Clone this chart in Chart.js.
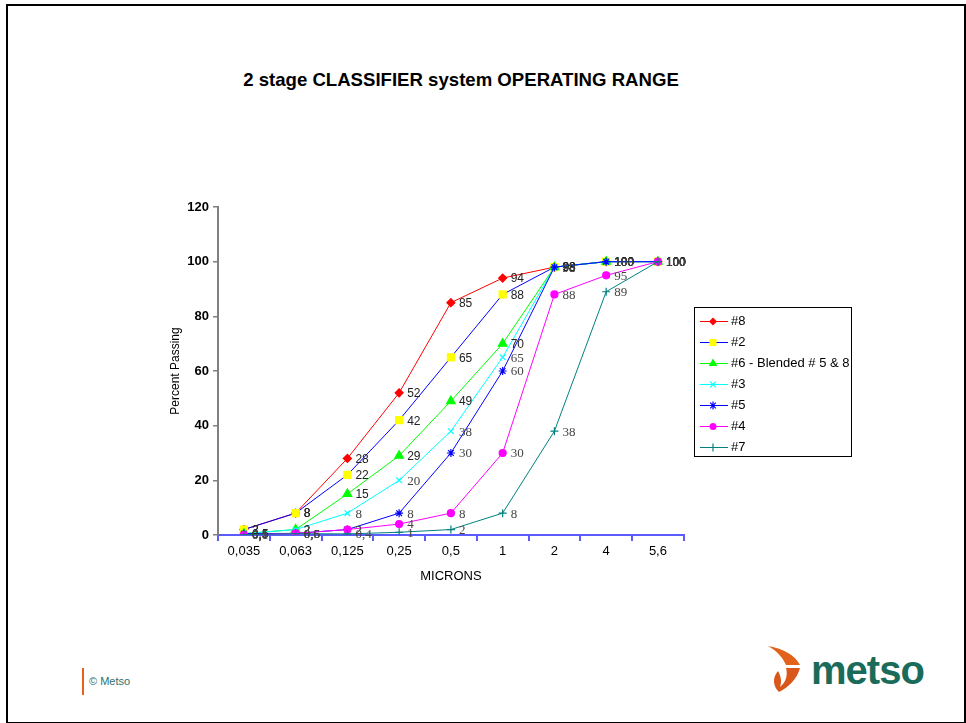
<!DOCTYPE html>
<html>
<head>
<meta charset="utf-8">
<script src="https://cdn.jsdelivr.net/npm/chart.js@4.4.1/dist/chart.umd.min.js"></script>
<style>
  body { margin: 0; background: #fff; font-family: Arial, "Liberation Sans", sans-serif; }
  #page { position: relative; width: 966px; height: 723px; overflow: hidden; }
  #frame { position: absolute; left: 6px; top: 4px; width: 956px; height: 716px; border: 2px solid #000; }
  #title { position: absolute; left: 0; width: 922px; top: 70px; line-height: 20px; text-align: center;
           font-weight: bold; font-size: 18.6px; color: #000; }
  #wrap { position: absolute; left: 160px; top: 195px; }
  #legend { position: absolute; left: 694px; top: 307px; width: 156px; height: 146px; border: 1px solid #000;
            padding-top: 2px; box-sizing: content-box; }
  .row { height: 21px; display: flex; align-items: center; font-size: 13px; color: #000; }
  .row canvas { margin-left: 5px; margin-right: 3px; }
  #copy { position: absolute; left: 82px; top: 668px; height: 27px; border-left: 2px solid #e8601c;
          padding-left: 5px; font-size: 11px; line-height: 27px; color: #2f6f6a; }
  #logo { position: absolute; left: 760px; top: 636px; }
  #logo span { position: absolute; left: 51px; top: 9px; font-size: 40px; font-weight: bold; color: #1b6b5b;
               letter-spacing: -1px; line-height: 50px; }
</style>
</head>
<body>
<div id="page">
  <div id="frame"></div>
  <div id="title">2 stage CLASSIFIER system OPERATING RANGE</div>
  <div id="wrap"><canvas id="chart" width="530" height="395"></canvas></div>
  <div id="legend"></div>
  <div id="copy">© Metso</div>
  <div id="logo">
    <svg width="50" height="62" viewBox="760 636 50 62">
      <path d="M768 646 C784 649 795 655 800 665 L786 665 C783 658 777 651 768 646 Z" fill="#e2621b"/>
      <path d="M786 668 L800 668 C797 679 789 687 779 692 C773 686 772 678 778 671 C781 676 782 682 780 687 C786 682 788 675 786 668 Z" fill="#d9571a"/>
    </svg>
    <span>metso</span>
  </div>
</div>
<script>
// x categories (microns)
const microns = ['0,035', '0,063', '0,125', '0,25', '0,5', '1', '2', '4', '5,6'];
const seriesNames = ['#8', '#2', '#6 - Blended # 5 & 8', '#3', '#5', '#4', '#7'];

// percent passing per sample
const s8 = [2, 8, 28, 52, 85, 94, 98, 100, 100];
const s2 = [2, 8, 22, 42, 65, 88, 98, 100, 100];
const s6 = [0.5, 2, 15, 29, 49, 70, 98, 100, 100];
const s3 = [0.5, 2, 8, 20, 38, 65, 98, 100, 100];
const s5 = [0.5, 0.6, 2, 8, 30, 60, 98, 100, 100];
const s4 = [0.1, 0.6, 2, 4, 8, 30, 88, 95, 100];
const s7 = [0.1, 0.5, 0.4, 1, 2, 8, 38, 89, 100];

const yTicks = [0, 20, 40, 60, 80, 100, 120];

const seriesData = [s8, s2, s6, s3, s5, s4, s7];
const lineColors = ['#ff0000', '#0000ff', '#00ff00', '#00ffff', '#0000ff', '#ff00ff', '#008080'];
const markColors = ['#ff0000', '#ffff00', '#00ff00', '#00ffff', '#0000ff', '#ff00ff', '#008080'];
const markStyles = ['rectRot', 'rect', 'triangle', 'crossRot', 'star', 'circle', 'cross'];
const markSizes = [4, 5, 5, 4, 4, 3.5, 4];
const sansLbl = '12px Arial, "Liberation Sans", sans-serif';
const serifLbl = '13px "Times New Roman", "Liberation Serif", serif';
const labelFonts = [sansLbl, sansLbl, sansLbl, serifLbl, serifLbl, serifLbl, serifLbl];
const labelColors = ['#222', '#222', '#222', '#444', '#444', '#444', '#444'];

function drawMark(ctx, style, x, y, r, color) {
  ctx.save();
  ctx.fillStyle = color;
  ctx.strokeStyle = color;
  ctx.lineWidth = 1.2;
  ctx.beginPath();
  if (style === 'rectRot') {
    ctx.moveTo(x, y - r); ctx.lineTo(x + r, y); ctx.lineTo(x, y + r); ctx.lineTo(x - r, y); ctx.closePath(); ctx.fill();
  } else if (style === 'rect') {
    const h = r * Math.SQRT1_2; ctx.rect(x - h, y - h, 2 * h, 2 * h); ctx.fill();
  } else if (style === 'triangle') {
    ctx.moveTo(x, y - r); ctx.lineTo(x + r * 0.87, y + r * 0.5); ctx.lineTo(x - r * 0.87, y + r * 0.5); ctx.closePath(); ctx.fill();
  } else if (style === 'circle') {
    ctx.arc(x, y, r, 0, Math.PI * 2); ctx.fill();
  } else {
    const d = r * Math.SQRT1_2;
    if (style === 'crossRot' || style === 'star') {
      ctx.moveTo(x - d, y - d); ctx.lineTo(x + d, y + d); ctx.moveTo(x + d, y - d); ctx.lineTo(x - d, y + d);
    }
    if (style === 'cross' || style === 'star') {
      ctx.moveTo(x, y - r); ctx.lineTo(x, y + r); ctx.moveTo(x - r, y); ctx.lineTo(x + r, y);
    }
    ctx.stroke();
  }
  ctx.restore();
}

// legend
const legend = document.getElementById('legend');
seriesNames.forEach((name, i) => {
  const row = document.createElement('div');
  row.className = 'row';
  const c = document.createElement('canvas');
  c.width = 28; c.height = 14;
  const cx = c.getContext('2d');
  cx.strokeStyle = lineColors[i];
  cx.lineWidth = 1;
  cx.beginPath(); cx.moveTo(0, 7.5); cx.lineTo(28, 7.5); cx.stroke();
  drawMark(cx, markStyles[i], 13, 7.5, markSizes[i], markColors[i]);
  row.appendChild(c);
  const t = document.createElement('span');
  t.textContent = name;
  row.appendChild(t);
  legend.appendChild(row);
});

// value labels next to each point
const pointLabels = {
  id: 'pointLabels',
  afterDatasetsDraw(chart) {
    const ctx = chart.ctx;
    chart.data.datasets.forEach((ds, idx) => {
      const meta = chart.getDatasetMeta(idx);
      ctx.save();
      ctx.font = labelFonts[idx];
      ctx.fillStyle = labelColors[idx];
      ctx.textBaseline = 'middle';
      meta.data.forEach((pt, j) => {
        ctx.fillText(String(ds.data[j]).replace('.', ','), pt.x + 8, pt.y + 1);
      });
      ctx.restore();
    });
  }
};

new Chart(document.getElementById('chart'), {
  type: 'line',
  data: {
    labels: microns,
    datasets: seriesData.map((d, i) => ({
      label: seriesNames[i],
      data: d,
      order: 7 - i,
      borderColor: lineColors[i],
      borderWidth: 1,
      backgroundColor: markColors[i],
      pointBackgroundColor: markColors[i],
      pointBorderColor: markColors[i],
      pointBorderWidth: 1.2,
      pointStyle: markStyles[i],
      pointRadius: markSizes[i],
      tension: 0
    }))
  },
  options: {
    responsive: false,
    devicePixelRatio: 1,
    animation: false,
    layout: { padding: { top: 12, right: 4, left: 0, bottom: 0 } },
    plugins: { legend: { display: false }, tooltip: { enabled: false } },
    scales: {
      x: {
        type: 'category',
        offset: true,
        afterFit: (s) => { s.height = 55; },
        grid: { offset: true, drawOnChartArea: false, drawTicks: true, tickLength: 6, color: '#5b5bff', lineWidth: 2 },
        border: { color: '#5b5bff', width: 2 },
        ticks: { color: '#000', padding: 3, maxRotation: 0, font: { size: 13, family: 'Arial, "Liberation Sans", sans-serif' } },
        title: { display: true, text: 'MICRONS', color: '#000', padding: { top: 0, bottom: 6 },
                 font: { size: 13, family: 'Arial, "Liberation Sans", sans-serif' } }
      },
      y: {
        min: 0, max: 120,
        afterFit: (s) => { s.width = 58; },
        afterBuildTicks: (s) => { s.ticks = yTicks.map(v => ({ value: v })); },
        grid: { drawOnChartArea: false, drawTicks: true, tickLength: 5, color: '#808080', lineWidth: 1.5 },
        border: { color: '#808080', width: 2 },
        ticks: { color: '#000', padding: 4, font: { size: 13, weight: 'bold', family: 'Arial, "Liberation Sans", sans-serif' } },
        title: { display: true, text: 'Percent Passing', color: '#000', padding: { top: 8, bottom: 0 },
                 font: { size: 12, family: 'Arial, "Liberation Sans", sans-serif' } }
      }
    }
  },
  plugins: [pointLabels]
});
</script>
</body>
</html>
